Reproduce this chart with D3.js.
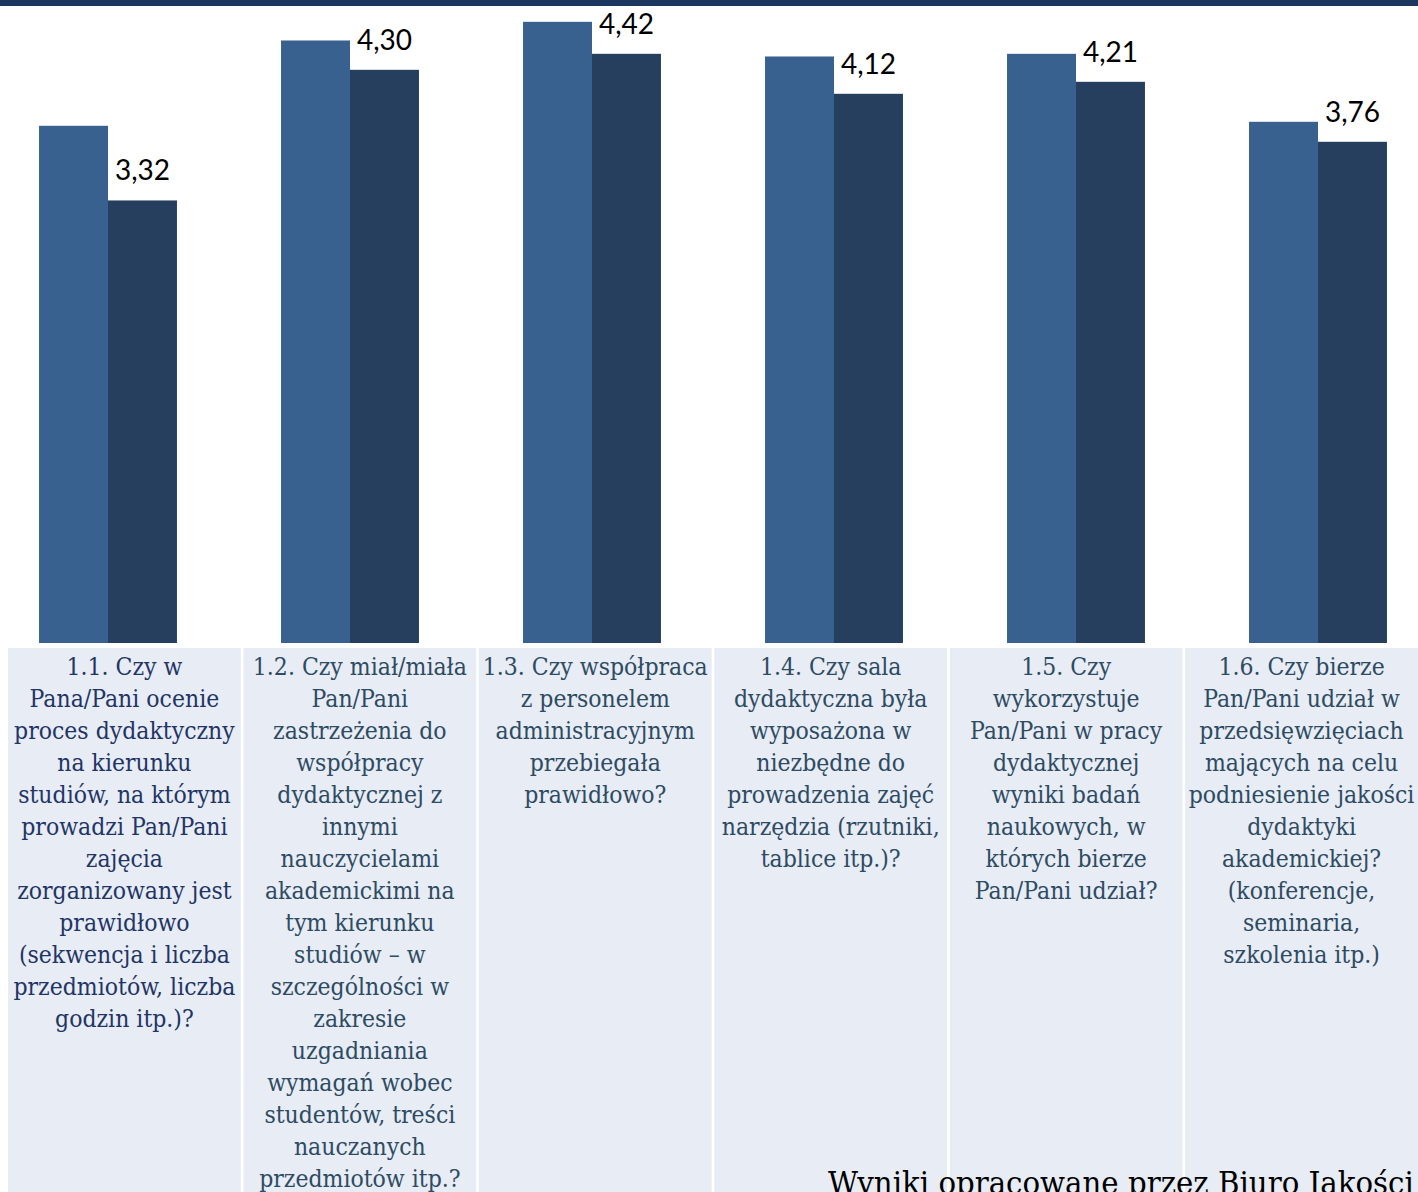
<!DOCTYPE html>
<meta charset="utf-8">
<script src="https://d3js.org/d3.v7.min.js"></script>
<style>
  html, body { margin: 0; padding: 0; background: #ffffff; overflow: hidden; }
  svg { display: block; }
  .val { font-family: Lato, "Liberation Sans", sans-serif; font-size: 28px; fill: #000; }
  .lab { font-family: "DejaVu Serif Condensed", "DejaVu Serif", serif; font-stretch: condensed; font-size: 24.5px; }
  .note { font-family: "DejaVu Serif Condensed", "DejaVu Serif", serif; font-stretch: condensed; font-size: 32.5px; fill: #000; }
</style>
<body>
<div id="chart"></div>
<script>

var categories = ["1.1", "1.2", "1.3", "1.4", "1.5", "1.6"];
var series = ["a", "b"];

// first (lighter) series - no labels in the picture
var valuesA = [3.88, 4.52, 4.66, 4.40, 4.42, 3.91];
// second (darker) series - labelled
var valuesB = [3.32, 4.30, 4.42, 4.12, 4.21, 3.76];

var labelLines = [
  ["1.1. Czy w", "Pana/Pani ocenie", "proces dydaktyczny", "na kierunku", "studiów, na którym", "prowadzi Pan/Pani", "zajęcia", "zorganizowany jest", "prawidłowo", "(sekwencja i liczba", "przedmiotów, liczba", "godzin itp.)?"],
  ["1.2. Czy miał/miała", "Pan/Pani", "zastrzeżenia do", "współpracy", "dydaktycznej z", "innymi", "nauczycielami", "akademickimi na", "tym kierunku", "studiów – w", "szczególności w", "zakresie", "uzgadniania", "wymagań wobec", "studentów, treści", "nauczanych", "przedmiotów itp.?"],
  ["1.3. Czy współpraca", "z personelem", "administracyjnym", "przebiegała", "prawidłowo?"],
  ["1.4. Czy sala", "dydaktyczna była", "wyposażona w", "niezbędne do", "prowadzenia zajęć", "narzędzia (rzutniki,", "tablice itp.)?"],
  ["1.5. Czy", "wykorzystuje", "Pan/Pani w pracy", "dydaktycznej", "wyniki badań", "naukowych, w", "których bierze", "Pan/Pani udział?"],
  ["1.6. Czy bierze", "Pan/Pani udział w", "przedsięwzięciach", "mających na celu", "podniesienie jakości", "dydaktyki", "akademickiej?", "(konferencje,", "seminaria,", "szkolenia itp.)"]
];

var note = "Wyniki opracowane przez Biuro Jakości Kształcenia";

var W = 1418, H = 1192;

var svg = d3.select("#chart").append("svg")
  .attr("width", W)
  .attr("height", H);

// top band
svg.append("rect")
  .attr("x", 0).attr("y", 0)
  .attr("width", W).attr("height", 6)
  .attr("fill", "#1c365f");

var x0 = d3.scaleBand()
  .domain(categories)
  .range([-13, 1439])
  .paddingInner(0.43)
  .paddingOuter(0.215);

var x1 = d3.scaleBand()
  .domain(series)
  .range([0, x0.bandwidth()]);

var y = d3.scaleLinear()
  .domain([0, 5])
  .range([643, -23.5]);

var colors = { a: "#386190", b: "#263f5f" };

var rows = categories.map(function(c, i) {
  return { cat: c, a: valuesA[i], b: valuesB[i] };
});

var groups = svg.selectAll("g.grp")
  .data(rows)
  .enter().append("g")
  .attr("class", "grp")
  .attr("transform", function(d) { return "translate(" + x0(d.cat) + ",0)"; });

groups.selectAll("rect")
  .data(function(d) { return series.map(function(s) { return { s: s, v: d[s] }; }); })
  .enter().append("rect")
  .attr("x", function(d) { return x1(d.s); })
  .attr("y", function(d) { return y(d.v); })
  .attr("width", x1.bandwidth())
  .attr("height", function(d) { return y(0) - y(d.v); })
  .attr("fill", function(d) { return colors[d.s]; });

var fmt = function(v) { return d3.format(".2f")(v).replace(".", ","); };

groups.append("text")
  .attr("class", "val")
  .attr("x", x1("b") + x1.bandwidth() / 2)
  .attr("y", function(d) { return y(d.b) - 20; })
  .attr("text-anchor", "middle")
  .text(function(d) { return fmt(d.b); });

// category label table
var xt = d3.scaleBand()
  .domain(categories)
  .range([8, 1418])
  .paddingInner(0.011)
  .paddingOuter(0);

var cells = svg.selectAll("g.cell")
  .data(categories)
  .enter().append("g")
  .attr("class", "cell")
  .attr("transform", function(d) { return "translate(" + xt(d) + ",648)"; });

cells.append("rect")
  .attr("width", xt.bandwidth())
  .attr("height", H - 648)
  .attr("fill", "#e8ecf4");

cells.append("text")
  .attr("class", "lab")
  .attr("text-anchor", "middle")
  .attr("fill", function(d, i) { return i === 0 ? "#1f3566" : "#2d4b63"; })
  .selectAll("tspan")
  .data(function(d, i) { return labelLines[i]; })
  .enter().append("tspan")
  .attr("x", xt.bandwidth() / 2)
  .attr("y", function(d, j) { return 27 + j * 32; })
  .text(function(d) { return d; });

svg.append("text")
  .attr("class", "note")
  .attr("x", 828)
  .attr("y", 1194)
  .text(note);

</script>
</body>
